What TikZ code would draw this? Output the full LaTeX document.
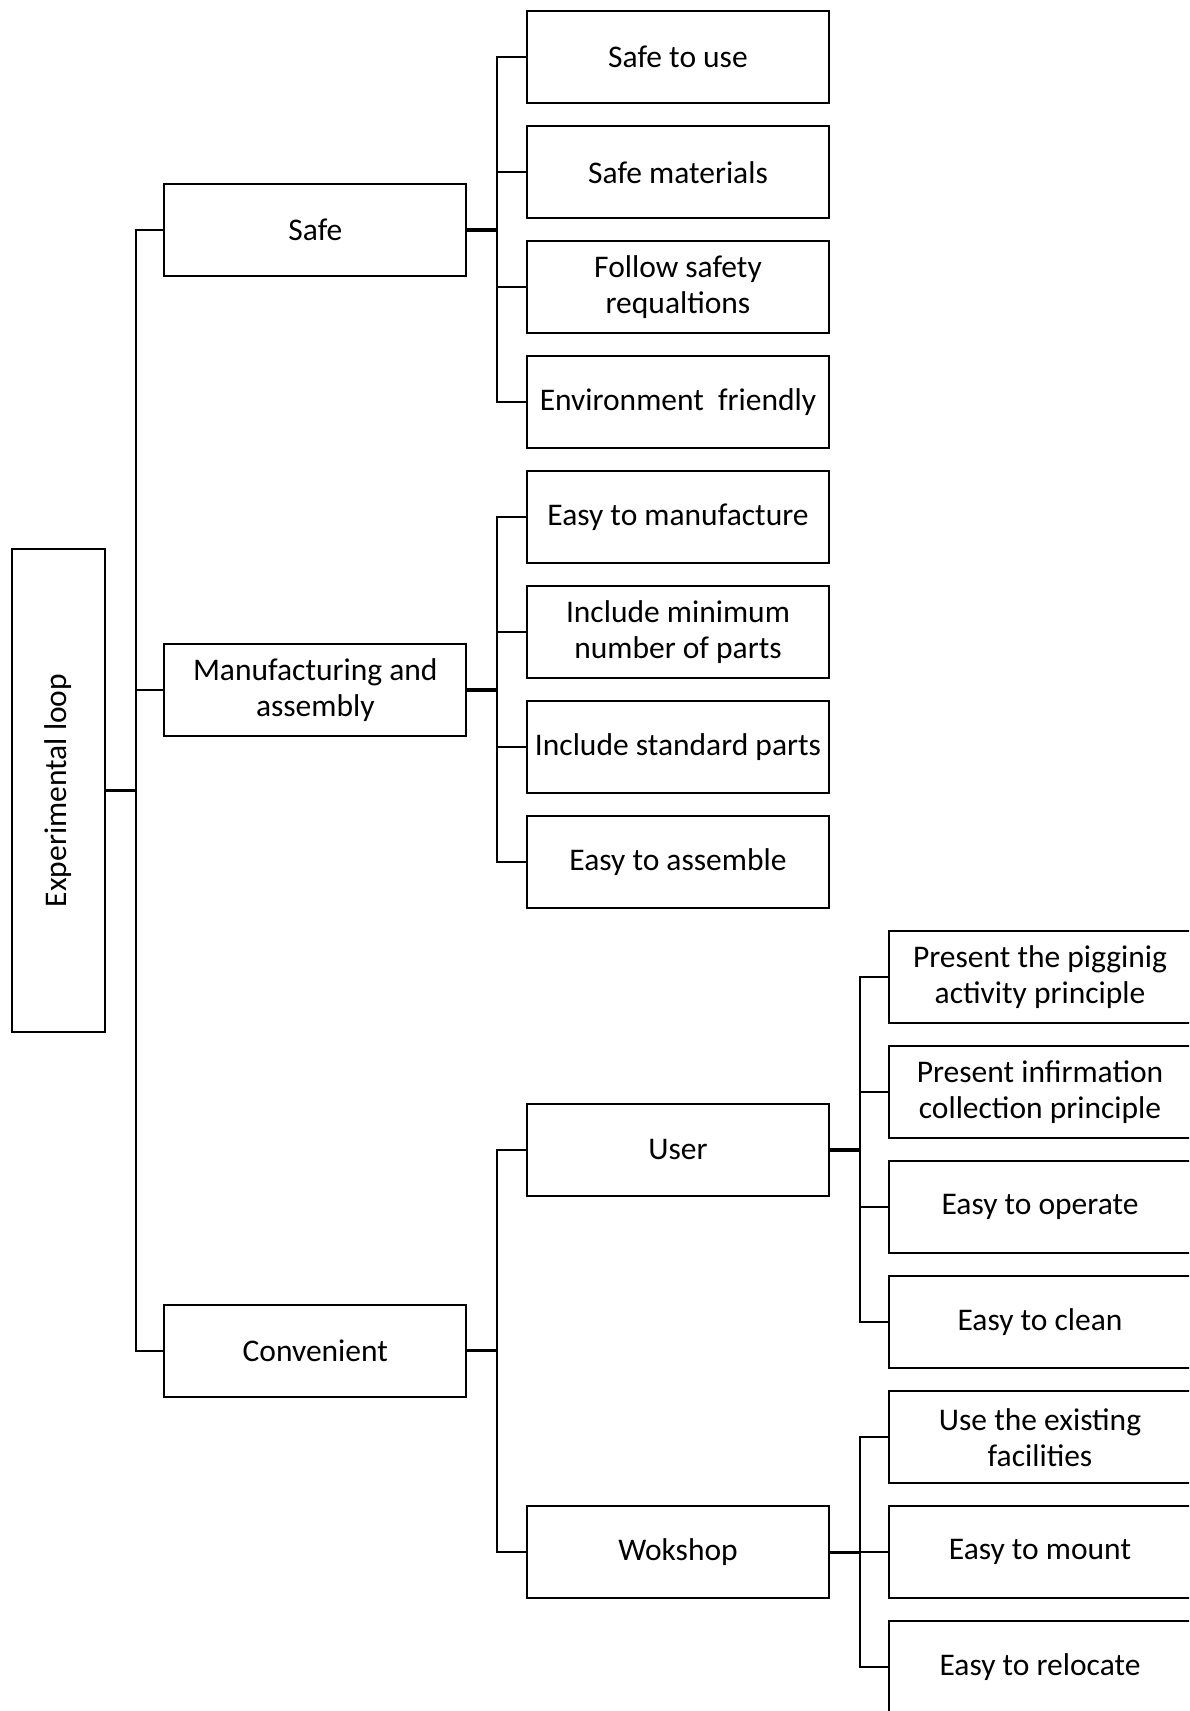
\documentclass[tikz,border=0pt]{standalone}
\usepackage{fontspec}
\usepackage{graphicx}
\setmainfont{Carlito}
\usepackage{tikz}

\tikzset{
  box/.style={draw, line width=2.2pt, minimum width=302pt, minimum height=92pt,
    inner sep=0pt, align=center, font=\fontsize{31.5}{36}\selectfont},
  rootbox/.style={box, minimum width=93pt, minimum height=483pt},
  link/.style={line width=2.2pt},
  stub/.style={line width=3.6pt}
}

\begin{document}
\begin{tikzpicture}[x=1pt,y=-1pt]
      \useasboundingbox (0,0) rectangle (1189,1711);
      \clip (0,0) rectangle (1189,1711);

      % Draw the root box
      \node[rootbox] (root) at (58.5,790.5) {\rotatebox{90}{Experimental loop}};

      % Draw the first level
      \node[box] (safe) at (315.3,229.8) {Safe};
      \node[box] (manu) at (315.3,689.8) {Manufacturing and\\assembly};
      \node[box] (conv) at (315.3,1350.6) {Convenient};

      % Draw the second level
      \node[box] (use) at (678,57.3) {Safe to use};
      \node[box] (mat) at (678,172.3) {Safe materials};
      \node[box] (reg) at (678,287.3) {Follow safety\\requaltions};
      \node[box] (env) at (678,402.3) {Environment\ \ friendly};
      \node[box] (make) at (678,517.3) {Easy to manufacture};
      \node[box] (few) at (678,632.3) {Include minimum\\number of parts};
      \node[box] (std) at (678,747.3) {Include standard parts};
      \node[box] (asm) at (678,862.3) {Easy to assemble};
      \node[box] (user) at (678,1149.8) {User};
      \node[box] (shop) at (678,1552.3) {Wokshop};

      % Draw the third level
      \node[box] (pig) at (1040,977.3) {Present the pigginig\\activity principle};
      \node[box] (info) at (1040,1092.3) {Present infirmation\\collection principle};
      \node[box] (oper) at (1040,1207.3) {Easy to operate};
      \node[box] (clean) at (1040,1322.3) {Easy to clean};
      \node[box] (exist) at (1040,1437.3) {Use the existing\\facilities};
      \node[box] (mount) at (1040,1552.3) {Easy to mount};
      \node[box] (move) at (1040,1667.3) {Easy to relocate};

      % Draw the connectors
      \draw[stub] (root.east) -- ++(29.5,0);
      \foreach \c in {safe,manu,conv}
        \draw[link] (root.east) -- ++(29.5,0) |- (\c.west);

      \draw[stub] (safe.east) -- ++(29.5,0);
      \foreach \c in {use,mat,reg,env}
        \draw[link] (safe.east) -- ++(29.5,0) |- (\c.west);

      \draw[stub] (manu.east) -- ++(29.5,0);
      \foreach \c in {make,few,std,asm}
        \draw[link] (manu.east) -- ++(29.5,0) |- (\c.west);

      \draw[stub] (conv.east) -- ++(29.5,0);
      \foreach \c in {user,shop}
        \draw[link] (conv.east) -- ++(29.5,0) |- (\c.west);

      \draw[stub] (user.east) -- ++(30,0);
      \foreach \c in {pig,info,oper,clean}
        \draw[link] (user.east) -- ++(30,0) |- (\c.west);

      \draw[stub] (shop.east) -- ++(30,0);
      \foreach \c in {exist,mount,move}
        \draw[link] (shop.east) -- ++(30,0) |- (\c.west);
  \end{tikzpicture}
\end{document}
